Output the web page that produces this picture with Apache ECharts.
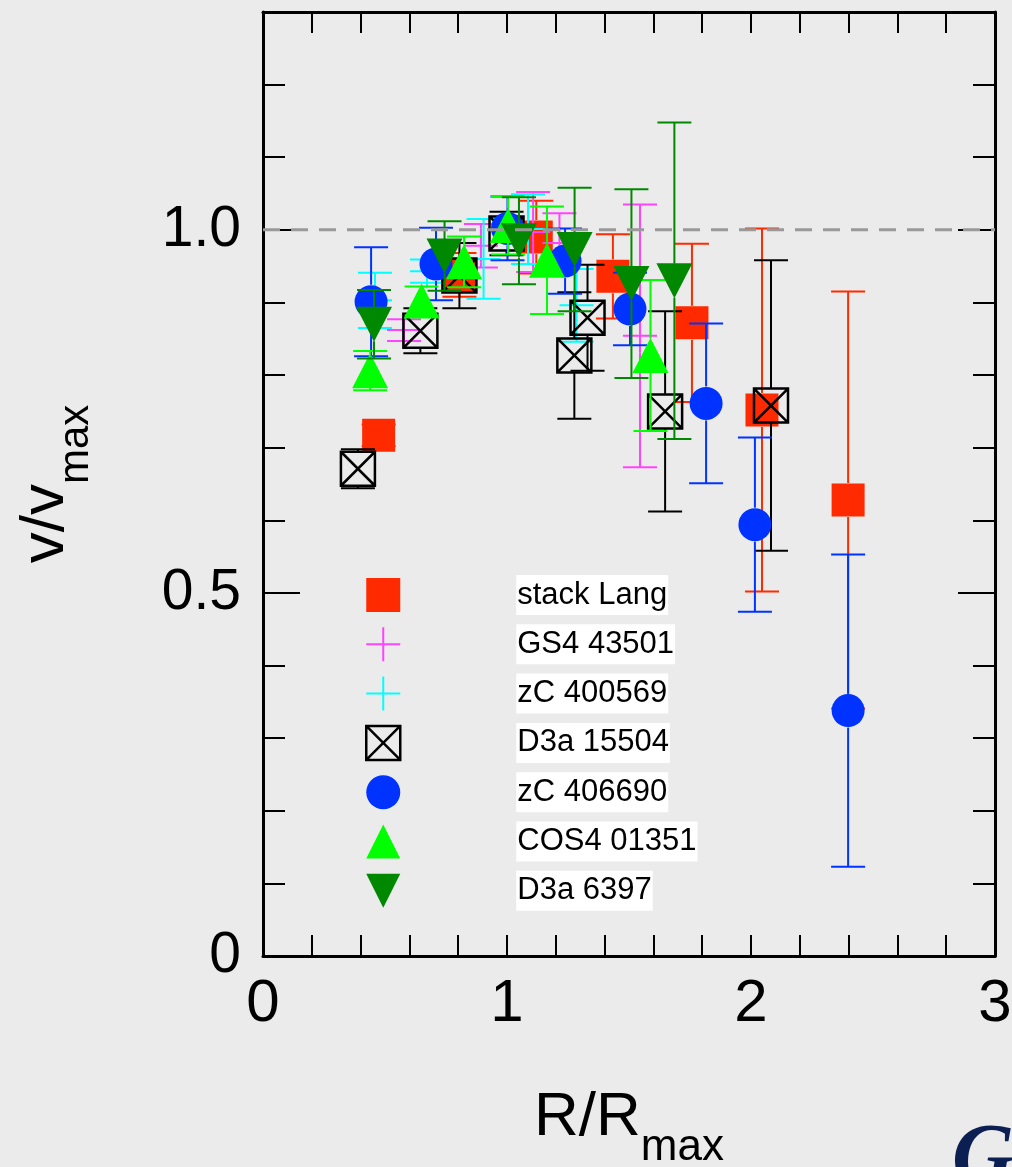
<!DOCTYPE html>
<html>
<head>
<meta charset="utf-8">
<script src="https://cdn.jsdelivr.net/npm/echarts@6/dist/echarts.min.js"></script>
<style>
  html, body { margin: 0; padding: 0; background: #ebebeb; overflow: hidden; }
  #chart { width: 1012px; height: 1167px; }
</style>
</head>
<body>
<div id="chart"></div>
<script>
// Rotation-curve samples: normalised radius R/Rmax, normalised velocity v/vmax, 1-sigma error

const langR = [0.474, 0.805, 1.12, 1.434, 1.758, 2.045, 2.398];
const langV = [0.717, 0.938, 0.99, 0.936, 0.872, 0.752, 0.628];
const langE = [0.015, 0.03, 0.05, 0.058, 0.109, 0.25, 0.287];

const gs4R = [0.578, 0.893, 1.107, 1.215, 1.545];
const gs4V = [0.862, 0.978, 0.997, 0.982, 0.854];
const gs4E = [0.015, 0.03, 0.055, 0.041, 0.181];

const zc569R = [0.459, 0.672, 0.904, 1.086, 1.285];
const zc569V = [0.903, 0.943, 0.96, 1.001, 0.896];
const zc569E = [0.038, 0.016, 0.055, 0.048, 0.05];

const d3a15504R = [0.389, 0.645, 0.805, 0.998, 1.276, 1.33, 1.648, 2.082];
const d3a15504V = [0.671, 0.861, 0.937, 0.995, 0.827, 0.879, 0.75, 0.758];
const d3a15504E = [0.027, 0.031, 0.045, 0.03, 0.087, 0.073, 0.138, 0.2];

const zc690R = [0.443, 0.709, 1.002, 1.238, 1.504, 1.816, 2.016, 2.398];
const zc690V = [0.901, 0.953, 1.002, 0.957, 0.891, 0.761, 0.594, 0.338];
const zc690E = [0.075, 0.05, 0.044, 0.045, 0.05, 0.11, 0.12, 0.215];

const cos4R = [0.439, 0.65, 0.824, 1.004, 1.164, 1.588];
const cos4V = [0.806, 0.902, 0.956, 1.006, 0.958, 0.827];
const cos4E = [0.027, 0.02, 0.035, 0.04, 0.074, 0.104];

const d3a6397R = [0.455, 0.744, 1.049, 1.277, 1.51, 1.686];
const d3a6397V = [0.87, 0.964, 0.985, 0.973, 0.926, 0.93];
const d3a6397E = [0.047, 0.048, 0.06, 0.085, 0.13, 0.218];

// reference level v = vmax
const unityLine = [[0, 1], [3, 1]];

const xTickLabels = ['0', '1', '2', '3'];
const yTickLabels = { '0': '0', '0.5': '0.5', '1': '1.0' };

const FONT = '"Liberation Sans", Arial, sans-serif';

const PATH_SQUARE = 'path://M0,0H20V20H0Z';
const PATH_PLUS = 'path://M10,0V20M0,10H20';
const PATH_BOXX = 'path://M0,0H20V20H0ZM0,0L20,20M20,0L0,20';
const PATH_CIRCLE = 'path://M10,0A10,10,0,1,1,10,20A10,10,0,1,1,10,0Z';
const PATH_TRI_UP = 'path://M10,0L20,20H0Z';
const PATH_TRI_DOWN = 'path://M0,0H20L10,20Z';

const groups = [
  { name: 'stack Lang', r: langR, v: langV, e: langE, color: '#ff2a00',
    symbol: 'rect', size: 33, rotate: 0, fill: '#ff2a00', stroke: null, icon: PATH_SQUARE },
  { name: 'GS4 43501', r: gs4R, v: gs4V, e: gs4E, color: '#ff44ff',
    symbol: PATH_PLUS, size: 34, rotate: 0, fill: 'transparent', stroke: '#ff44ff', icon: PATH_PLUS },
  { name: 'zC 400569', r: zc569R, v: zc569V, e: zc569E, color: '#00ffff',
    symbol: PATH_PLUS, size: 34, rotate: 0, fill: 'transparent', stroke: '#00ffff', icon: PATH_PLUS },
  { name: 'D3a 15504', r: d3a15504R, v: d3a15504V, e: d3a15504E, color: '#000000',
    symbol: PATH_BOXX, size: 34, rotate: 0, fill: 'transparent', stroke: '#000000', icon: PATH_BOXX },
  { name: 'zC 406690', r: zc690R, v: zc690V, e: zc690E, color: '#0033ff',
    symbol: 'circle', size: 33, rotate: 0, fill: '#0033ff', stroke: null, icon: PATH_CIRCLE },
  { name: 'COS4 01351', r: cos4R, v: cos4V, e: cos4E, color: '#00ff00',
    symbol: 'triangle', size: [36, 35], rotate: 0, fill: '#00ff00', stroke: null, icon: PATH_TRI_UP },
  { name: 'D3a 6397', r: d3a6397R, v: d3a6397V, e: d3a6397E, color: '#008800',
    symbol: 'triangle', size: [36, 35], rotate: 180, fill: '#008800', stroke: null, icon: PATH_TRI_DOWN }
];

const CAP = 17;      // half width of the error-bar caps, px
const GAP = 17;      // the bar is not drawn inside the marker, px

function errorBarSeries(g, z) {
  return {
    type: 'custom',
    name: g.name + ' error',
    silent: true,
    z: z,
    data: g.r.map((x, i) => [x, g.v[i], g.e[i]]),
    encode: { x: 0, y: 1 },
    renderItem: function (params, api) {
      const x = api.value(0), y = api.value(1), e = api.value(2);
      const c = api.coord([x, y]);
      const top = api.coord([x, y + e]);
      const bot = api.coord([x, y - e]);
      const style = { stroke: g.color, lineWidth: 2, fill: null };
      const children = [
        { type: 'line', shape: { x1: top[0] - CAP, y1: top[1], x2: top[0] + CAP, y2: top[1] }, style: style },
        { type: 'line', shape: { x1: bot[0] - CAP, y1: bot[1], x2: bot[0] + CAP, y2: bot[1] }, style: style }
      ];
      if (top[1] < c[1] - GAP) {
        children.push({ type: 'line', shape: { x1: c[0], y1: top[1], x2: c[0], y2: c[1] - GAP }, style: style });
      }
      if (bot[1] > c[1] + GAP) {
        children.push({ type: 'line', shape: { x1: c[0], y1: c[1] + GAP, x2: c[0], y2: bot[1] }, style: style });
      }
      return { type: 'group', children: children };
    }
  };
}

function markerSeries(g, z) {
  const itemStyle = { color: g.fill, opacity: 1 };
  if (g.stroke) {
    itemStyle.borderColor = g.stroke;
    itemStyle.borderWidth = g.symbol === PATH_BOXX ? 2.5 : 2;
  } else {
    itemStyle.borderWidth = 0;
  }
  return {
    type: 'scatter',
    name: g.name,
    z: z,
    silent: true,
    symbol: g.symbol,
    symbolSize: g.size,
    symbolRotate: g.rotate,
    symbolKeepAspect: false,
    itemStyle: itemStyle,
    emphasis: { disabled: true },
    data: g.r.map((x, i) => [x, g.v[i]])
  };
}

const series = [];
groups.forEach((g, i) => {
  series.push(errorBarSeries(g, 10 + 2 * i));
  series.push(markerSeries(g, 11 + 2 * i));
});

series.push({
  type: 'line',
  name: 'unity',
  silent: true,
  z: 40,
  symbol: 'none',
  data: unityLine,
  lineStyle: { color: '#999999', width: 3, type: [17, 11] }
});

const legendData = groups.map(g => ({
  name: g.name,
  icon: g.icon,
  itemStyle: g.stroke
    ? { color: 'transparent', borderColor: g.stroke, borderWidth: g.icon === PATH_BOXX ? 2.5 : 2 }
    : { color: g.fill, borderWidth: 0 }
}));

const axisLineStyle = { color: '#000', width: 3 };
const tickStyle = { color: '#000', width: 2 };

function xAxisDef(position, showLabels) {
  return {
    type: 'value', position: position, min: 0, max: 3, interval: 1,
    axisLine: { show: true, onZero: false, lineStyle: axisLineStyle },
    axisTick: { show: true, inside: true, length: 21, lineStyle: tickStyle },
    minorTick: { show: true, splitNumber: 5, length: 21, lineStyle: tickStyle },
    splitLine: { show: false },
    axisLabel: {
      show: showLabels, margin: 18, color: '#000', fontFamily: FONT, fontSize: 60,
      formatter: v => xTickLabels[Math.round(v)] || ''
    }
  };
}

function yAxisDef(position, interval, tickLen, showLine, showLabels) {
  return {
    type: 'value', position: position, min: 0, max: 1.3, interval: interval,
    axisLine: { show: showLine, onZero: false, lineStyle: axisLineStyle },
    axisTick: { show: true, inside: true, length: tickLen, lineStyle: tickStyle },
    splitLine: { show: false },
    axisLabel: {
      show: showLabels, margin: 22, color: '#000', fontFamily: FONT, fontSize: 57,
      showMaxLabel: false,
      formatter: v => {
        const k = String(Math.round(v * 10) / 10);
        return yTickLabels[k] !== undefined ? yTickLabels[k] : '';
      }
    }
  };
}

const xMain = xAxisDef('bottom', true);
xMain.name = '{b|R/R}{s|max}';
xMain.nameLocation = 'middle';
xMain.nameGap = 131;
xMain.nameTextStyle = {
  rich: {
    b: { fontFamily: FONT, fontSize: 62, lineHeight: 62, color: '#000', verticalAlign: 'top' },
    s: { fontFamily: FONT, fontSize: 44, lineHeight: 44, color: '#000', verticalAlign: 'top', padding: [39, 0, 0, 0] }
  }
};

const yMain = yAxisDef('left', 0.5, 37, true, true);
yMain.name = '{b|v/v}{s|max}';
yMain.nameLocation = 'middle';
yMain.nameRotate = 90;
yMain.nameGap = 186;
yMain.nameTextStyle = {
  rich: {
    b: { fontFamily: FONT, fontSize: 62, lineHeight: 62, color: '#000', verticalAlign: 'top' },
    s: { fontFamily: FONT, fontSize: 42, lineHeight: 42, color: '#000', verticalAlign: 'top', padding: [40, 0, 0, 0] }
  }
};

const option = {
  backgroundColor: '#ebebeb',
  animation: false,
  grid: { left: 263, right: 17, top: 12, bottom: 211, containLabel: false, outerBoundsMode: 'none' },
  xAxis: [xMain, xAxisDef('top', false)],
  yAxis: [
    yMain,
    yAxisDef('left', 0.1, 22, false, false),
    yAxisDef('right', 0.5, 37, true, false),
    yAxisDef('right', 0.1, 22, false, false)
  ],
  legend: {
    orient: 'vertical',
    left: 360,
    top: 570,
    itemWidth: 34,
    itemHeight: 34,
    itemGap: 9.3,
    selectedMode: false,
    data: legendData,
    formatter: name => '{g|}{t|' + name + '}',
    textStyle: {
      lineHeight: 40,
      rich: {
        g: { width: 111, height: 40, lineHeight: 40 },
        t: { fontFamily: FONT, fontSize: 31, height: 40, lineHeight: 40, color: '#000',
             backgroundColor: '#ffffff', padding: [0, 1, 0, 1] }
      }
    }
  },
  graphic: [
    {
      type: 'text', left: 952, top: 1118, silent: true,
      style: { text: 'G', fontFamily: '"Liberation Serif", "DejaVu Serif", serif', fontSize: 86,
               fontStyle: 'italic', fontWeight: 'bold', fill: '#0b1f52' }
    }
  ],
  series: series
};

const chart = echarts.init(document.getElementById('chart'), null, { renderer: 'canvas', width: 1012, height: 1167 });
chart.setOption(option);
</script>
</body>
</html>
